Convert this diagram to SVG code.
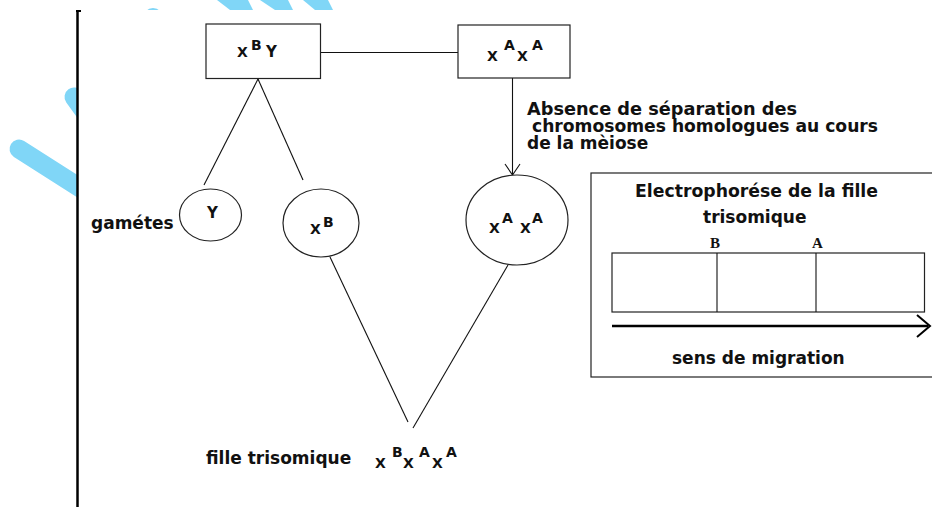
<svg xmlns="http://www.w3.org/2000/svg" width="932" height="507" viewBox="0 0 932 507">
<style>
.shape{fill:#fff;stroke:#222;stroke-width:1.2}
.ln{stroke:#111;stroke-width:1.1;fill:none}
.t{font-family:"DejaVu Sans","Verdana",sans-serif;font-weight:bold;font-size:17px;fill:#111}
.g{font-family:"DejaVu Sans","Verdana",sans-serif;font-weight:bold;font-size:14px;fill:#111}
.s{font-family:"Liberation Serif","Times New Roman",serif;font-weight:bold;font-size:15px;fill:#111}
.wm{fill:#80d6f7}
.wml{stroke:#80d6f7;stroke-width:19;stroke-linecap:round;fill:none}
</style>
<defs>
<clipPath id="wmclip"><rect x="0" y="0" width="932" height="10"/><rect x="0" y="0" width="77" height="507"/></clipPath>
</defs>
<rect x="0" y="0" width="932" height="507" fill="#fff"/>
<g id="watermark" clip-path="url(#wmclip)">
<line class="wml" x1="19" y1="149" x2="110" y2="207"/>
<line class="wml" x1="74" y1="97" x2="110" y2="147"/>
<circle class="wm" cx="153" cy="18" r="10"/>
<polygon class="wm" points="217,0 248,0 253,10 230,10"/>
<polygon class="wm" points="260,0 288,0 293,10 275,10"/>
<polygon class="wm" points="303,0 328,0 333,10 315,10"/>
</g>
<g id="margin">
<line x1="77.5" y1="11" x2="77.5" y2="507" stroke="#000" stroke-width="2.5"/>
<line x1="76" y1="11" x2="81" y2="11" stroke="#000" stroke-width="2"/>
</g>
<g id="connectors">
<line class="ln" x1="321" y1="52.5" x2="458" y2="52.5"/>
<line class="ln" x1="258" y1="79" x2="204" y2="185"/>
<line class="ln" x1="258" y1="79" x2="303" y2="180"/>
<line class="ln" x1="512.5" y1="78" x2="512.5" y2="175"/>
<polyline class="ln" points="505,164 512.5,175 520,164"/>
<line class="ln" x1="330" y1="257" x2="408" y2="422"/>
<line class="ln" x1="508" y1="265" x2="413" y2="428"/>
</g>
<g id="node-pere">
<rect class="shape" x="206" y="24" width="114.5" height="54.5"/>
<text class="g" x="237" y="57">X</text>
<text class="g" x="251" y="50">B</text>
<text class="g" x="266" y="57" style="font-size:15px">Y</text>
</g>
<g id="node-mere">
<rect class="shape" x="458" y="25" width="112" height="53"/>
<text class="g" x="487" y="61">X</text>
<text class="g" x="504" y="50">A</text>
<text class="g" x="517" y="61">X</text>
<text class="g" x="532" y="50">A</text>
</g>
<g id="label-meiose">
<text class="t" x="527" y="115" textLength="270" lengthAdjust="spacingAndGlyphs">Absence de séparation des</text>
<text class="t" x="532" y="132" textLength="346" lengthAdjust="spacingAndGlyphs">chromosomes homologues au cours</text>
<text class="t" x="527" y="149">de la mèiose</text>
</g>
<g id="node-gamete-Y">
<text class="t" x="91" y="229">gamétes</text>
<ellipse class="shape" cx="210.5" cy="215" rx="31" ry="26"/>
<text class="g" x="207" y="218" style="font-size:15px">Y</text>
</g>
<g id="node-gamete-XB">
<ellipse class="shape" cx="321" cy="223" rx="38" ry="34"/>
<text class="g" x="310" y="234">X</text>
<text class="g" x="323" y="227">B</text>
</g>
<g id="node-gamete-XAXA">
<ellipse class="shape" cx="517" cy="220" rx="51" ry="45"/>
<text class="g" x="489" y="233">X</text>
<text class="g" x="502" y="223">A</text>
<text class="g" x="520" y="233">X</text>
<text class="g" x="532" y="223">A</text>
</g>
<g id="node-fille">
<text class="t" x="206" y="464">fille trisomique</text>
<text class="g" x="375" y="468">X</text>
<text class="g" x="392" y="457">B</text>
<text class="g" x="403" y="468">X</text>
<text class="g" x="419" y="457">A</text>
<text class="g" x="432" y="468">X</text>
<text class="g" x="446" y="457">A</text>
</g>
<g id="node-electrophorese">
<rect class="shape" x="591" y="173" width="360" height="204"/>
<text class="t" x="635" y="197" textLength="243" lengthAdjust="spacingAndGlyphs">Electrophorése de la fille</text>
<text class="t" x="703" y="223">trisomique</text>
<text class="s" x="710" y="248">B</text>
<text class="s" x="812" y="248">A</text>
<rect class="shape" x="612" y="253" width="312.5" height="59"/>
<line class="ln" x1="717" y1="253" x2="717" y2="312"/>
<line class="ln" x1="816" y1="253" x2="816" y2="312"/>
<line x1="612" y1="326" x2="928" y2="326" stroke="#000" stroke-width="2.5"/>
<polyline points="917,315 930,326 917,337" fill="none" stroke="#000" stroke-width="2"/>
<text class="t" x="672" y="364">sens de migration</text>
</g>
</svg>
